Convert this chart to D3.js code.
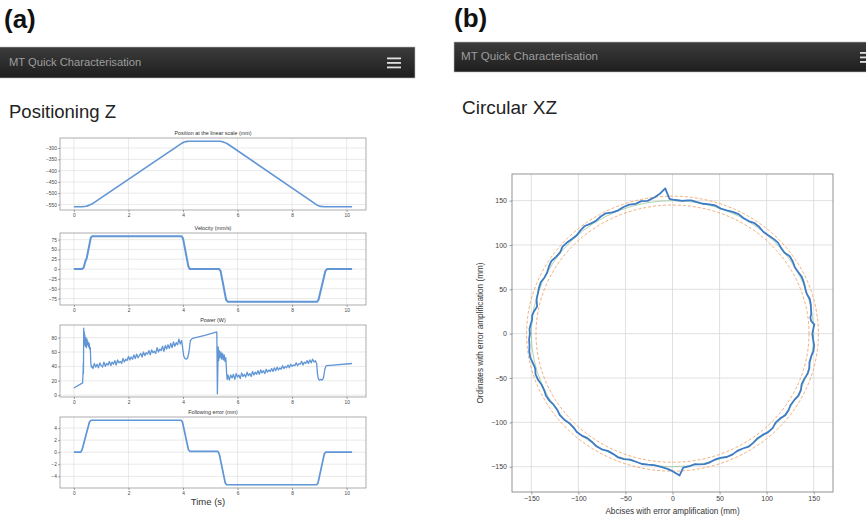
<!DOCTYPE html>
<html>
<head>
<meta charset="utf-8">
<script src="https://cdn.jsdelivr.net/npm/d3@7"></script>
<style>
  body { margin: 0; background: #fff; }
  svg { display: block; font-family: "Liberation Sans", Arial, sans-serif; }
</style>
</head>
<body>
<div id="fig"></div>
<script>
var svgWidth = 866;
var svgHeight = 519;

// ---- data ----
var timeTicks = [0, 2, 4, 6, 8, 10];

var positionPts = [[0,-560],[0.3,-560],[0.45,-558],[0.55,-554],[0.67,-547],[3.95,-279],[4.05,-273],
  [4.15,-270.5],[4.25,-270],[5.33,-270],[5.42,-271],[5.52,-275],[5.64,-282],[8.92,-553],[9.05,-558.5],
  [9.2,-560],[10.2,-560]];
var positionTicks = [-550, -500, -450, -400, -350, -300];

var velocityPts = [[0,0],[0.3,0],[0.36,4],[0.42,20],[0.47,28],[0.62,80],[0.67,83.5],[3.95,83.5],
  [4.0,78],[4.2,6],[4.25,0],[5.33,0],[5.38,-5],[5.58,-78],[5.64,-83],[8.92,-83],[8.97,-78],
  [9.22,-5],[9.28,0],[10.2,0]];
var velocityTicks = [-75, -50, -25, 0, 25, 50, 75];

var powerPts = [[0,10],[0.32,17],[0.34,36],[0.345,45],[0.35,30],[0.36,93],[0.37,72],[0.38,88],
  [0.39,70],[0.4,84],[0.42,68],[0.44,80],[0.46,66],[0.48,78],[0.5,70],[0.52,74],[0.54,67],[0.56,72],
  [0.58,64],[0.6,66],[0.62,45],[0.64,39],
  [0.65,41],[0.7,37],[0.75,44],[0.8,39],[0.85,43],[0.9,38],[0.95,45],[1.0,41],[1.05,39],[1.1,46],
  [1.15,40],[1.2,44],[1.25,42],[1.3,47],[1.35,41],[1.4,46],[1.45,43],[1.5,48],[1.55,42],[1.6,49],
  [1.65,45],[1.7,47],[1.75,44],[1.8,51],[1.85,46],[1.9,50],[1.95,48],[2.0,54],[2.05,49],[2.1,53],
  [2.15,50],[2.2,56],[2.25,51],[2.3,57],[2.35,52],[2.4,55],[2.45,58],[2.5,53],[2.55,60],[2.6,55],
  [2.65,59],[2.7,57],[2.75,62],[2.8,56],[2.85,63],[2.9,59],[2.95,61],[3.0,58],[3.05,66],[3.1,60],
  [3.15,64],[3.2,62],[3.25,68],[3.3,61],[3.35,69],[3.4,64],[3.45,70],[3.5,65],[3.55,72],[3.6,66],
  [3.65,74],[3.7,68],[3.75,73],[3.8,70],[3.85,78],[3.9,71],[3.95,76],
  [4.0,62],[4.03,54],[4.07,51],[4.12,50],[4.17,52],[4.22,60],[4.27,76],[4.35,79],[4.8,83],[5.24,88],
  [5.26,2],[5.28,40],[5.29,67],[5.31,48],[5.33,62],[5.36,52],[5.39,60],[5.42,50],[5.45,58],[5.48,49],
  [5.51,56],[5.54,47],[5.57,52],[5.6,30],[5.62,22],[5.65,28],
  [5.7,21],[5.75,28],[5.8,24],[5.85,29],[5.9,22],[5.95,30],[6.0,25],[6.05,28],[6.1,23],[6.15,31],
  [6.2,26],[6.25,29],[6.3,25],[6.35,32],[6.4,27],[6.45,30],[6.5,26],[6.55,33],[6.6,28],[6.65,32],
  [6.7,29],[6.75,34],[6.8,29],[6.85,35],[6.9,31],[6.95,34],[7.0,30],[7.05,36],[7.1,32],[7.15,35],
  [7.2,33],[7.25,37],[7.3,33],[7.35,38],[7.4,34],[7.45,39],[7.5,35],[7.55,38],[7.6,36],[7.65,41],
  [7.7,37],[7.75,40],[7.8,38],[7.85,42],[7.9,38],[7.95,43],[8.0,40],[8.05,42],[8.1,41],[8.15,45],
  [8.2,41],[8.25,44],[8.3,43],[8.35,47],[8.4,42],[8.45,46],[8.5,44],[8.55,48],[8.6,44],[8.65,49],
  [8.7,45],[8.75,50],[8.8,46],[8.85,48],[8.9,44],
  [8.93,30],[8.96,23],[9.0,21],[9.05,22],[9.1,21],[9.15,24],[9.2,36],[9.25,41],[9.4,41.5],[10.2,44]];
var powerTicks = [0, 20, 40, 60, 80];

var errorPts = [[0,0],[0.25,0],[0.3,0.4],[0.57,5.0],[0.63,5.3],[3.93,5.3],[3.98,5.0],[4.2,0.4],
  [4.25,0.15],[5.28,0.15],[5.33,-0.3],[5.55,-5.1],[5.6,-5.4],[8.9,-5.4],[8.95,-5.1],[9.18,-0.3],
  [9.23,0],[10.2,0]];
var errorTicks = [-4, -2, 0, 2, 4];

// circular test: [angle in degrees, radius in mm]
var circlePts = [[0,148.5],[2.5,150],[4,151],[5.5,148],[7,147.5],[8.5,149],[10,149.5],[12.5,150.5],
  [15,151],[17.5,149.5],[20,150],[22.5,151],[25,151.5],[27.5,150.5],[30,150],[32.5,151.5],[35,152],
  [37.5,150],[40,150.5],[42.5,152],[45,151.5],[47.5,150.5],[50,150],[52.5,151.5],[55,152],[57.5,150.5],
  [60,150.5],[62.5,152],[65,151.5],[67.5,150.5],[70,150],[72.5,151.5],[75,151],[77.5,150],[80,150.5],
  [82.5,151.5],[84,151],[86,150],[88,150.5],[90,151],[91.2,152],[92.7,164],[95,158],[97,155],[100,152],
  [102.5,153],[105,151.5],[107.5,152.5],[110,152],[112.5,150.5],[115,151],[117.5,153],[120,152.5],
  [122.5,151],[125,151.5],[127.5,153],[130,152],[132.5,150.5],[135,151],[137.5,152],[140,152.5],
  [142.5,150.5],[145,151],[147.5,152.5],[150,151.5],[152.5,150],[155,150],[157.5,151.5],[160,151],
  [162.5,150],[165,149.5],[168,147],[170,149],[172,150.5],[174,150],[176,151],[178,152],[180,151.5],
  [182.5,152.5],[185,152.5],[187.5,153.5],[190,153.5],[192.5,152],[195,151],[197.5,152.5],[200,152],
  [202.5,150.5],[205,150.5],[207.5,151.5],[210,151],[212.5,149.5],[215,149.5],[217.5,151],[220,150.5],
  [222.5,149],[225,149],[227.5,150.5],[230,150],[232.5,148.5],[235,149],[237.5,150.5],[240,150.5],
  [242.5,149],[245,149.5],[247.5,151],[250,150.5],[252.5,149],[255,149.5],[257.5,150.5],[260,150],
  [262.5,149.5],[265,150.5],[268,152.5],[270,155],[272.7,160],[274.3,151.5],[277,150.5],[279,149],
  [281,150],[283,151],[285,150.5],[287.5,149],[290,149],[292.5,150.5],[295,150.5],[297.5,149],
  [300,149.5],[302.5,151],[305,150],[307.5,148.5],[310,149],[312.5,150.5],[315,150.5],[317.5,148.5],
  [320,149],[322.5,151],[325,150.5],[327.5,149],[330,149.5],[332.5,151],[335,150.5],[337.5,148.5],
  [340,149],[342.5,150.5],[345,150.5],[347.5,149],[350,149.5],[352.5,151],[355,151],[357.5,149.5],
  [360,148.5]];
var toleranceRadii = [145, 155];
var nominalRadius = 150;
var circleTicks = [-150, -100, -50, 0, 50, 100, 150];

// ---- page ----
var svg = d3.select("#fig")
  .append("svg")
  .attr("width", svgWidth)
  .attr("height", svgHeight);

var defs = svg.append("defs");
var grad = defs.append("linearGradient")
  .attr("id", "barGrad")
  .attr("x1", 0).attr("y1", 0).attr("x2", 0).attr("y2", 1);
grad.append("stop").attr("offset", "0%").attr("stop-color", "#3c3c3c");
grad.append("stop").attr("offset", "100%").attr("stop-color", "#1e1e1e");

function drawNavbar(x, y, w, h, textX, textY, fontSize, burgerX) {
  svg.append("rect")
    .attr("x", x).attr("y", y)
    .attr("width", w).attr("height", h)
    .attr("fill", "url(#barGrad)")
    .attr("stroke", "#bbb")
    .attr("stroke-width", 0.6);
  svg.append("text")
    .attr("x", textX).attr("y", textY)
    .attr("font-size", fontSize)
    .attr("fill", "#9d9d9d")
    .text("MT Quick Characterisation");
  [0, 1, 2].forEach(function(i) {
    svg.append("rect")
      .attr("x", burgerX).attr("y", y + h / 2 - 5 + i * 4.5)
      .attr("width", 14).attr("height", 1.8)
      .attr("fill", "#e0e0e0");
  });
}

svg.append("text").attr("x", 4).attr("y", 28)
  .attr("font-size", 26).attr("font-weight", "bold").attr("fill", "#111").text("(a)");
svg.append("text").attr("x", 454).attr("y", 27)
  .attr("font-size", 26).attr("font-weight", "bold").attr("fill", "#111").text("(b)");

drawNavbar(-1, 47, 416, 31, 9, 66, 11.2, 387);
drawNavbar(454, 42, 414, 30, 461, 59.5, 11.6, 860);

svg.append("text").attr("x", 9).attr("y", 118)
  .attr("font-size", 18.5).attr("fill", "#222").text("Positioning Z");
svg.append("text").attr("x", 462).attr("y", 114)
  .attr("font-size", 19).attr("fill", "#222").text("Circular XZ");

// ---- left: four stacked time plots ----
var plotLeft = 60, plotRight = 366;
var tExt = d3.extent(positionPts, d => d[0]);
var tPad = (tExt[1] - tExt[0]) * 0.05;
var xTime = d3.scaleLinear()
  .domain([tExt[0] - tPad, tExt[1] + tPad])
  .range([plotLeft, plotRight]);

var subplots = [
  { title: "Position at the linear scale (mm)", data: positionPts, ticks: positionTicks, top: 138, bottom: 210, width: 1.6 },
  { title: "Velocity (mm/s)", data: velocityPts, ticks: velocityTicks, top: 233, bottom: 305, width: 2 },
  { title: "Power (W)", data: powerPts, ticks: powerTicks, top: 325, bottom: 397, width: 1.3 },
  { title: "Following error (mm)", data: errorPts, ticks: errorTicks, top: 417, bottom: 488, width: 1.7 }
];

function styleAxis(g, fontSize) {
  g.select(".domain").remove();
  g.attr("font-size", fontSize).attr("font-family", null);
  g.selectAll(".tick line").attr("stroke", "#666").attr("stroke-width", 0.6);
  g.selectAll(".tick text").attr("fill", "#444");
}

subplots.forEach(function(cfg) {
  var ext = d3.extent(cfg.data, d => d[1]);
  var pad = (ext[1] - ext[0]) * 0.05;
  var y = d3.scaleLinear()
    .domain([ext[0] - pad, ext[1] + pad])
    .range([cfg.bottom, cfg.top]);

  var g = svg.append("g");

  // grid
  g.selectAll(".vgrid").data(timeTicks).enter().append("line")
    .attr("x1", d => xTime(d)).attr("x2", d => xTime(d))
    .attr("y1", cfg.top).attr("y2", cfg.bottom)
    .attr("stroke", "#dcdcdc").attr("stroke-width", 0.6);
  g.selectAll(".hgrid").data(cfg.ticks).enter().append("line")
    .attr("x1", plotLeft).attr("x2", plotRight)
    .attr("y1", d => y(d)).attr("y2", d => y(d))
    .attr("stroke", "#dcdcdc").attr("stroke-width", 0.6);

  var line = d3.line()
    .x(d => xTime(d[0]))
    .y(d => y(d[1]));

  g.append("path")
    .datum(cfg.data)
    .attr("d", line)
    .attr("fill", "none")
    .attr("stroke", "#6095d6")
    .attr("stroke-width", cfg.width)
    .attr("stroke-linejoin", "round");

  g.append("rect")
    .attr("x", plotLeft).attr("y", cfg.top)
    .attr("width", plotRight - plotLeft).attr("height", cfg.bottom - cfg.top)
    .attr("fill", "none").attr("stroke", "#8a8a8a").attr("stroke-width", 0.7);

  g.append("g")
    .attr("transform", `translate(0, ${cfg.bottom})`)
    .call(d3.axisBottom(xTime).tickValues(timeTicks).tickSize(2).tickPadding(1.2))
    .call(a => styleAxis(a, 4.8));

  g.append("g")
    .attr("transform", `translate(${plotLeft}, 0)`)
    .call(d3.axisLeft(y).tickValues(cfg.ticks).tickSize(2).tickPadding(1.2))
    .call(a => styleAxis(a, 4.8));

  g.append("text")
    .attr("x", (plotLeft + plotRight) / 2)
    .attr("y", cfg.top - 3)
    .attr("text-anchor", "middle")
    .attr("font-size", 5.4)
    .attr("fill", "#333")
    .text(cfg.title);
});

svg.append("text")
  .attr("x", 208).attr("y", 505)
  .attr("text-anchor", "middle")
  .attr("font-size", 9.5)
  .attr("fill", "#333")
  .text("Time (s)");

// ---- right: circular test ----
var cLeft = 512, cRight = 833, cTop = 174, cBottom = 492;
var xC = d3.scaleLinear().domain([-170.5, 170.5]).range([cLeft, cRight]);
var yC = d3.scaleLinear().domain([-178.5, 180]).range([cBottom, cTop]);

var cg = svg.append("g");

cg.selectAll(".vgrid").data(circleTicks).enter().append("line")
  .attr("x1", d => xC(d)).attr("x2", d => xC(d))
  .attr("y1", cTop).attr("y2", cBottom)
  .attr("stroke", "#d8d8d8").attr("stroke-width", 0.8);
cg.selectAll(".hgrid").data(circleTicks).enter().append("line")
  .attr("x1", cLeft).attr("x2", cRight)
  .attr("y1", d => yC(d)).attr("y2", d => yC(d))
  .attr("stroke", "#d8d8d8").attr("stroke-width", 0.8);

// tolerance circles (dashed orange)
cg.selectAll(".tol").data(toleranceRadii).enter().append("ellipse")
  .attr("cx", xC(0)).attr("cy", yC(0))
  .attr("rx", d => xC(d) - xC(0))
  .attr("ry", d => yC(0) - yC(d))
  .attr("fill", "none")
  .attr("stroke", "#f0a46a")
  .attr("stroke-width", 0.9)
  .attr("stroke-dasharray", "3,2");

cg.append("ellipse")
  .attr("cx", xC(0)).attr("cy", yC(0))
  .attr("rx", xC(nominalRadius) - xC(0))
  .attr("ry", yC(0) - yC(nominalRadius))
  .attr("fill", "none")
  .attr("stroke", "#8cc08c")
  .attr("stroke-width", 0.7);

var circleLine = d3.line()
  .x(d => xC(d[1] * Math.cos(d[0] * Math.PI / 180)))
  .y(d => yC(d[1] * Math.sin(d[0] * Math.PI / 180)));

cg.append("path")
  .datum(circlePts)
  .attr("d", circleLine)
  .attr("fill", "none")
  .attr("stroke", "#3d7cc5")
  .attr("stroke-width", 1.8)
  .attr("stroke-linejoin", "round");

cg.append("rect")
  .attr("x", cLeft).attr("y", cTop)
  .attr("width", cRight - cLeft).attr("height", cBottom - cTop)
  .attr("fill", "none").attr("stroke", "#888").attr("stroke-width", 0.9);

cg.append("g")
  .attr("transform", `translate(0, ${cBottom})`)
  .call(d3.axisBottom(xC).tickValues(circleTicks).tickSize(2.5).tickPadding(1.5))
  .call(a => styleAxis(a, 7));

cg.append("g")
  .attr("transform", `translate(${cLeft}, 0)`)
  .call(d3.axisLeft(yC).tickValues(circleTicks).tickSize(2.5).tickPadding(2.5))
  .call(a => styleAxis(a, 7));

cg.append("text")
  .attr("x", (cLeft + cRight) / 2).attr("y", 514)
  .attr("text-anchor", "middle")
  .attr("font-size", 8.2)
  .attr("fill", "#333")
  .text("Abcises with error amplification (mm)");

cg.append("text")
  .attr("transform", `translate(483, ${(cTop + cBottom) / 2}) rotate(-90)`)
  .attr("text-anchor", "middle")
  .attr("font-size", 8.2)
  .attr("fill", "#333")
  .text("Ordinates with error amplification (mm)");
</script>
</body>
</html>
